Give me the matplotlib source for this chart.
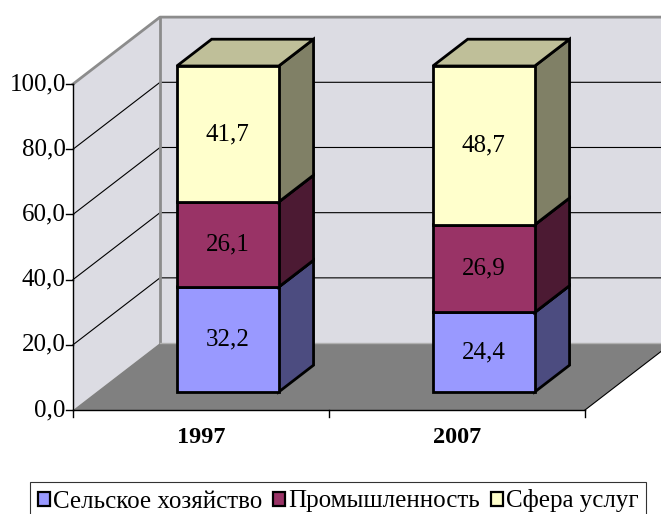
import matplotlib
matplotlib.use("Agg")
import matplotlib.pyplot as plt
from matplotlib.patches import Polygon, Patch
import numpy as np

plt.rcParams["font.family"] = ["Liberation Serif", "DejaVu Serif"]

years = ["1997", "2007"]
series = ["Сельское хозяйство", "Промышленность", "Сфера услуг"]
agri = [32.2, 24.4]
industry = [26.1, 26.9]
services = [41.7, 48.7]
yticks = [0, 20, 40, 60, 80, 100]

front_colors = ["#9999ff", "#993366", "#ffffcc"]
side_colors = ["#4c4c80", "#4c1a33", "#808066"]
top_colors = ["#7373bf", "#73264c", "#bfbf99"]

# oblique projection: depth 0 = front plane, depth 1 = back wall
DX, DY = 0.340, 20.55
BAR_L, BAR_W = 0.314, 0.398
D0, D1 = 0.27, 0.67


def P(x, d, v):
    return (x + d * DX, v + d * DY)


fig = plt.figure(figsize=(6.61, 5.14), dpi=100)
ax = fig.add_axes([0, 0, 1, 1])
ax.set_xlim(-0.285, 2.297)
ax.set_ylim(-31.9, 125.8)
ax.axis("off")

n = len(years)
vmax = yticks[-1]
wall = "#dcdce3"
edge_gray = "#8c8c8c"

# walls and floor
ax.add_patch(Polygon([P(0, 0, 0), P(0, 1, 0), P(0, 1, vmax), P(0, 0, vmax)],
                     closed=True, fc=wall, ec="none", zorder=1))
ax.add_patch(Polygon([P(0, 1, 0), P(n, 1, 0), P(n, 1, vmax), P(0, 1, vmax)],
                     closed=True, fc=wall, ec="none", zorder=1))
ax.add_patch(Polygon([P(0, 0, 0), P(n, 0, 0), P(n, 1, 0), P(0, 1, 0)],
                     closed=True, fc="#808080", ec="none", zorder=2))
ax.plot(*zip(P(n, 0, 0), P(n, 1, 0)), color="black", lw=0.8, zorder=2)

for v in yticks[1:-1]:
    pts = [P(0, 0, v), P(0, 1, v), P(n, 1, v)]
    ax.plot(*zip(*pts), color="black", lw=0.8, zorder=1.5)

ax.plot(*zip(P(0, 0, vmax), P(0, 1, vmax), P(n, 1, vmax)), color=edge_gray, lw=2, zorder=1.5)
ax.plot(*zip(P(0, 1, 0), P(0, 1, vmax)), color=edge_gray, lw=2, zorder=1.5)
ax.plot(*zip(P(0, 1, 0), P(n, 1, 0)), color="#b0b0b0", lw=1, zorder=2.5)

# axes
ax.plot(*zip(P(0, 0, 0), P(0, 0, vmax)), color="black", lw=1, zorder=3)
ax.plot(*zip(P(0, 0, 0), P(n, 0, 0)), color="black", lw=1, zorder=3)
for v in yticks:
    x0, y0 = P(0, 0, v)
    ax.plot([x0 - 0.027, x0], [y0, y0], color="black", lw=1, zorder=3)
    ax.text(x0 - 0.028, y0, f"{v:.1f}".replace(".", ","), ha="right", va="center",
            fontsize=18, zorder=3)
for i in range(n + 1):
    x0, y0 = P(i, 0, 0)
    ax.plot([x0, x0], [y0, y0 - 2.0], color="black", lw=1, zorder=3)
for i, yr in enumerate(years):
    ax.text(i + 0.5, -8.3, yr, ha="center", va="center", fontsize=17.5,
            fontweight="bold", zorder=3)

# stacked 3D bars
data = np.array([agri, industry, services])
for i in range(n):
    bottom = 0.0
    xl, xr = i + BAR_L, i + BAR_L + BAR_W
    for k in range(len(series)):
        h = data[k, i]
        b, t = bottom, bottom + h
        front = [P(xl, D0, b), P(xr, D0, b), P(xr, D0, t), P(xl, D0, t)]
        side = [P(xr, D0, b), P(xr, D1, b), P(xr, D1, t), P(xr, D0, t)]
        top = [P(xl, D0, t), P(xr, D0, t), P(xr, D1, t), P(xl, D1, t)]
        z = 4 + k
        ax.add_patch(Polygon(side, closed=True, fc=side_colors[k], ec="black", lw=2,
                             joinstyle="miter", zorder=z))
        ax.add_patch(Polygon(top, closed=True, fc=top_colors[k], ec="black", lw=2,
                             joinstyle="miter", zorder=z))
        ax.add_patch(Polygon(front, closed=True, fc=front_colors[k], ec="black", lw=2,
                             joinstyle="miter", zorder=z))
        cx, cy = P((xl + xr) / 2, D0, (b + t) / 2)
        ax.text(cx, cy, f"{h:.1f}".replace(".", ","), ha="center", va="center",
                fontsize=18, zorder=z + 0.5)
        bottom = t

handles = [Patch(fc=c, ec="black", lw=1.6) for c in front_colors]
leg = fig.legend(handles, series, loc="upper left", bbox_to_anchor=(30 / 661, 1 - 482 / 514),
                 ncol=3, frameon=True, fancybox=False, edgecolor="black", fontsize=18,
                 handlelength=0.5, handleheight=0.5, handletextpad=0.12, columnspacing=0.42,
                 borderpad=0.3, borderaxespad=0)
leg.get_frame().set_linewidth(0.8)

fig.savefig("out.png", dpi=100)
